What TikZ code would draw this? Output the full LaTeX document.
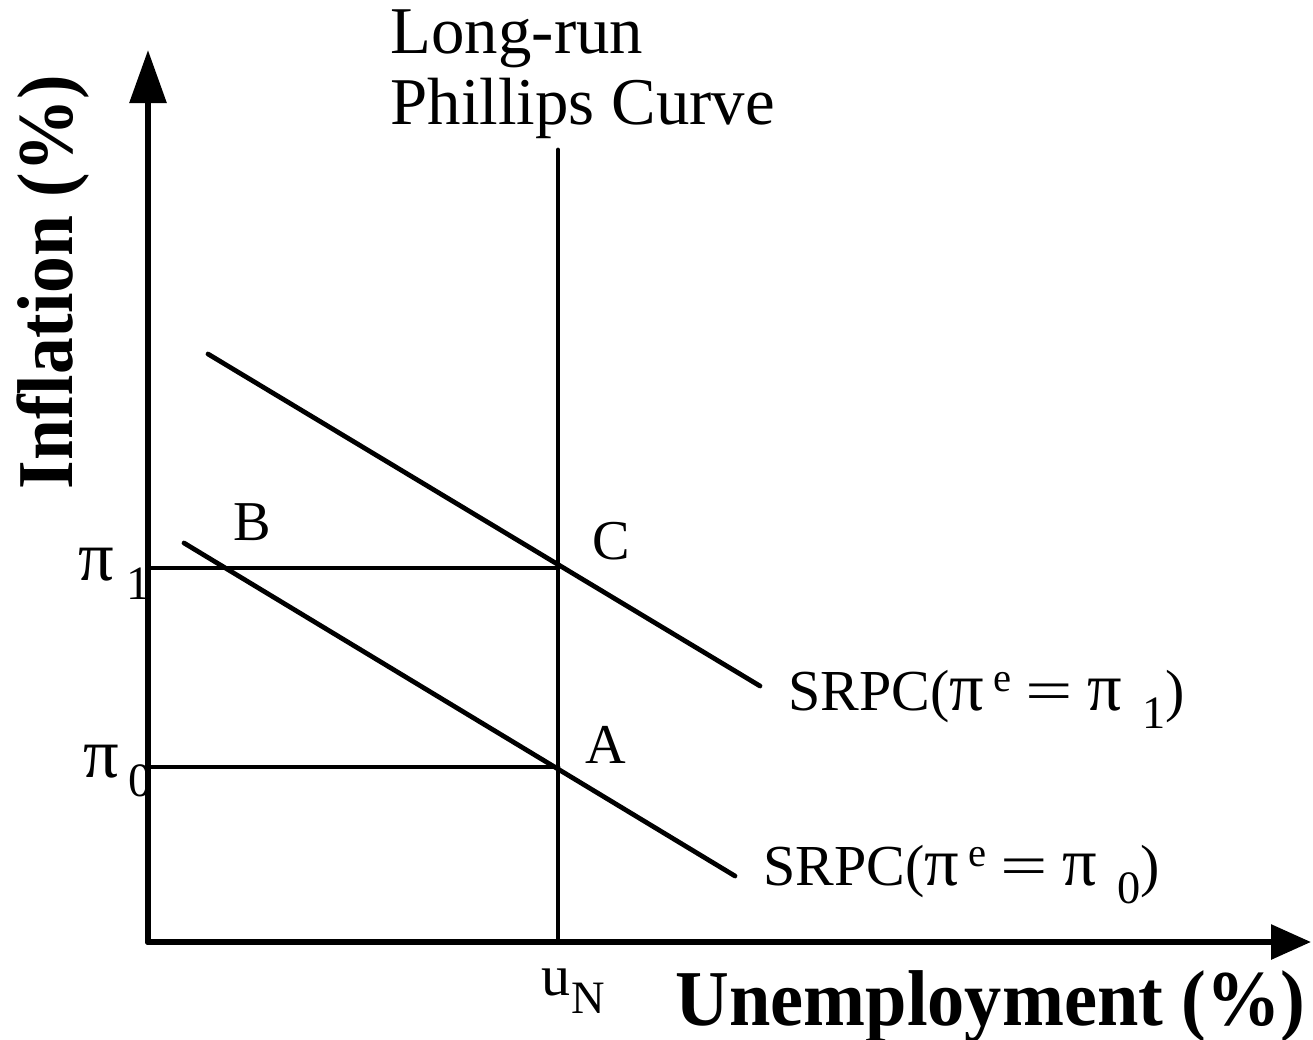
\documentclass[tikz,border=0pt]{standalone}
\usepackage{fontspec}
\usepackage{graphicx}
\setmainfont{Liberation Serif}
\usetikzlibrary{arrows.meta}
\newcommand{\bigpi}{\scalebox{1.18}{π}}
\newcommand{\wideeq}{\scalebox{1.45}[1]{=}}
\newcommand{\subtxt}[2][0.35em]{\kern#1\raisebox{-0.32em}{\scalebox{0.8}{#2}}}
\newcommand{\suptxt}[1]{\kern0.15em\raisebox{0.32em}{\scalebox{0.7}{#1}}}
\begin{document}
\begin{tikzpicture}[x=0.01cm, y=0.01cm, line cap=round,
    axisline/.style={line width=1.7pt},
    curveline/.style={line width=1.35pt},
    txt/.style={inner sep=0pt, anchor=base west},
    boldtxt/.style={inner sep=0pt, font=\bfseries\fontsize{22.5}{26}\selectfont}]
    \useasboundingbox (0,0) rectangle (1313,1039);
    % 1. 坐标点
    \coordinate (O) at (148,97);
    \coordinate (ytop) at (148,989);
    \coordinate (xend) at (1311,97);
    \coordinate (lrtop) at (558,889);
    \coordinate (uN) at (558,97);
    \coordinate (C) at (558,471);
    \coordinate (A) at (558,272);
    \coordinate (pione) at (148,471);
    \coordinate (pizero) at (148,272);
    \coordinate (s1a) at (208,685);
    \coordinate (s1b) at (760,353);
    \coordinate (s0a) at (184,496);
    \coordinate (s0b) at (735,163);

    % 2. 坐标轴
    \draw[axisline, -{Triangle[length=0.53cm, width=0.36cm]}] (O) -- (ytop);
    \draw[axisline, -{Triangle[length=0.40cm, width=0.34cm]}] (O) -- (xend);

    % 3. 长期与短期曲线
    \draw[curveline] (uN) -- (lrtop);
    \draw[curveline] (pione) -- (C);
    \draw[curveline] (pizero) -- (A);
    \draw[curveline] (s1a) -- (s1b);
    \draw[curveline] (s0a) -- (s0b);

    % 4. 标签
    \node[txt, font=\fontsize{19}{21}\selectfont] (lrun) at (390,985) {Long-run};
    \node[txt, font=\fontsize{19}{21}\selectfont] (lrpc) at (390,914) {Phillips Curve};
    \node[txt, font=\fontsize{16}{18}\selectfont] (ptB) at (233,499) {B};
    \node[txt, font=\fontsize{16}{18}\selectfont] (ptC) at (592,480) {C};
    \node[txt, font=\fontsize{16}{18}\selectfont] (ptA) at (585,276) {A};
    \node[txt, font=\fontsize{17}{20}\selectfont] (lblpione) at (78,459) {\bigpi\subtxt[0.2em]{1}};
    \node[txt, font=\fontsize{17}{20}\selectfont] (lblpizero) at (83,262) {\bigpi\subtxt[0.15em]{0}};
    \node[txt, font=\fontsize{16.5}{18}\selectfont] (srpcone) at (788,329) {SRPC(\bigpi\suptxt{e} \wideeq{} \bigpi\subtxt{1})};
    \node[txt, font=\fontsize{16.5}{18}\selectfont] (srpczero) at (763,154) {SRPC(\bigpi\suptxt{e} \wideeq{} \bigpi\subtxt{0})};
    \node[txt, font=\fontsize{16.5}{18}\selectfont] (lbluN) at (541,44) {u\subtxt[0.02em]{N}};
    \node[boldtxt, anchor=base west, xscale=0.94] (xlbl) at (675,14) {Unemployment (\%)};
    \node[boldtxt, anchor=base, rotate=90, xscale=0.93] (ylbl) at (72,757) {Inflation (\%)};
\end{tikzpicture}
\end{document}
